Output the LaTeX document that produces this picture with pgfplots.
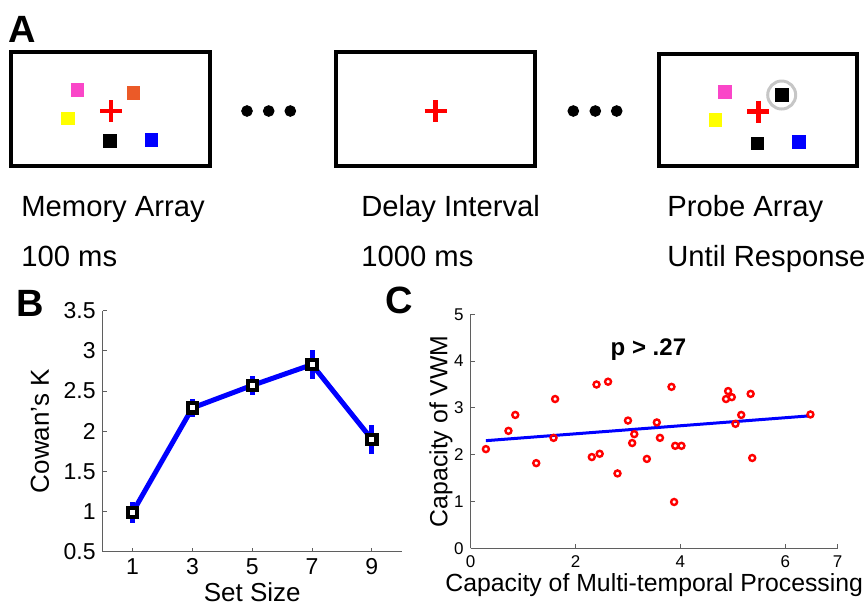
\documentclass[border=0pt]{standalone}
\usepackage{pgfplots}
\pgfplotsset{compat=1.18}
\usepackage{fontspec}
\setmainfont{Liberation Sans}

\definecolor{mblue}{RGB}{0,0,255}
\definecolor{mred}{RGB}{255,0,0}
\definecolor{axgray}{RGB}{95,95,95}
\definecolor{pinkA}{RGB}{250,70,200}
\definecolor{orangeA}{RGB}{235,90,40}
\definecolor{yellowA}{RGB}{255,255,0}

\pgfplotsset{
  mat/.style={
    scale only axis,
    axis lines=left,
    axis line style={-, draw=axgray, line width=0.6pt},
    tick align=inside,
    major tick length=2pt,
    tick style={draw=axgray, line width=0.5pt},
    /pgf/number format/assume math mode=true,
    clip=false,
  },
}

% set size, K, sem
\pgfplotstableread{
x y e
1 0.99 0.13
3 2.29 0.11
5 2.57 0.12
7 2.83 0.18
9 1.90 0.18
}\cowan

% multi-temporal capacity vs VWM capacity
\pgfplotstableread{
x y
0.29 2.12
0.72 2.51
0.85 2.85
1.25 1.82
1.58 2.36
1.61 3.19
2.31 1.95
2.40 3.50
2.46 2.02
2.62 3.56
2.80 1.60
3.00 2.73
3.08 2.25
3.12 2.44
3.36 1.91
3.55 2.69
3.61 2.36
3.83 3.45
3.88 0.99
3.90 2.19
4.02 2.19
4.87 3.19
4.91 3.36
4.98 3.23
5.05 2.66
5.16 2.85
5.34 3.30
5.37 1.93
6.48 2.86
}\scatterdata

\begin{document}
\begin{tikzpicture}
\useasboundingbox (0pt,0pt) rectangle (433pt,-303pt);

% panel A (schematic) in pixel coordinates
\begin{axis}[at={(0pt,0pt)}, anchor=north west, scale only axis,
  width=433pt, height=303pt, xmin=0, xmax=866, ymin=0, ymax=606,
  y dir=reverse, hide axis, clip=false]
  \draw[line width=2.1pt] (axis cs:10.7,52) rectangle (axis cs:210,166);
  \draw[line width=2.1pt] (axis cs:336,52) rectangle (axis cs:535,166);
  \draw[line width=2.1pt] (axis cs:658.7,53.7) rectangle (axis cs:857.3,166);
  \addplot[only marks, mark=o, mark size=7pt, gray!45, line width=1.5pt] coordinates {(781.7,95)};
  \addplot[only marks, mark=square*, mark size=3.2pt, pinkA] coordinates {(77.3,90) (725,92)};
  \addplot[only marks, mark=square*, mark size=3.2pt, orangeA] coordinates {(133.3,93)};
  \addplot[only marks, mark=square*, mark size=3.2pt, yellowA] coordinates {(67.7,118.3) (715.3,120)};
  \addplot[only marks, mark=square*, mark size=3.2pt, black] coordinates {(109.7,141) (781.7,95) (757.3,143.3)};
  \addplot[only marks, mark=square*, mark size=3.2pt, mblue] coordinates {(151.3,140) (799,142)};
  \addplot[only marks, mark=+, mark size=5.5pt, mred, line width=2.3pt] coordinates {(111,111) (435.5,111) (758.3,111.7)};
  \addplot[only marks, mark=*, mark size=2.7pt, black] coordinates {(247,111) (268.7,111) (290.3,111) (573.3,111) (595.3,111) (616.7,111)};
  \begin{scope}[every node/.style={anchor=base west, inner sep=0pt, font=\fontsize{14.6}{16}\selectfont}]
    \node at (axis cs:21,216) {Memory Array};
    \node at (axis cs:21,266) {100 ms};
    \node at (axis cs:361,216) {Delay Interval};
    \node at (axis cs:361,266) {1000 ms};
    \node at (axis cs:667,216) {Probe Array};
    \node at (axis cs:667,266) {Until Response};
  \end{scope}
  \begin{scope}[every node/.style={anchor=base west, inner sep=0pt, font=\bfseries\fontsize{19}{20}\selectfont}]
    \node at (axis cs:8,42) {A};
    \node at (axis cs:16,316) {B};
    \node at (axis cs:385,313) {C};
  \end{scope}
\end{axis}

% panel B
\begin{axis}[mat, at={(51.35pt,-275.85pt)}, anchor=south west,
  width=149.5pt, height=120.5pt,
  xmin=0, xmax=10, ymin=0.5, ymax=3.5,
  xtick={1,3,5,7,9}, ytick={0.5,1,1.5,2,2.5,3,3.5},
  ticklabel style={font=\fontsize{11.5}{13}\selectfont},
  label style={font=\fontsize{13}{15}\selectfont},
  xlabel={Set Size}, ylabel={Cowan’s K},
  xlabel style={at={(axis description cs:0.5,-0.17)}, anchor=center},
  ylabel style={at={(axis description cs:-0.21,0.5)}, anchor=center},
]
  \addplot[mblue, line width=2.5pt, mark=square*, mark size=2.3pt,
    mark options={draw=black, fill=white, line width=2.1pt},
    error bars/.cd, y dir=both, y explicit, error mark=none,
    error bar style={line width=2.5pt, mblue}]
    table[x=x, y=y, y error=e] {\cowan};
\end{axis}

% panel C
\begin{axis}[mat, at={(235.35pt,-274.15pt)}, anchor=south west,
  width=183.5pt, height=117pt,
  xmin=0, xmax=7, ymin=0, ymax=5,
  xtick={0,2,4,6,7}, ytick={0,1,2,3,4,5},
  ticklabel style={font=\fontsize{8.5}{10}\selectfont},
  label style={font=\fontsize{12.4}{14}\selectfont},
  xlabel={Capacity of Multi-temporal Processing}, ylabel={Capacity of VWM},
  xlabel style={at={(axis description cs:0.5,-0.157)}, anchor=center},
  ylabel style={at={(axis description cs:-0.081,0.5)}, anchor=center},
]
  \addplot[mblue, line width=1.5pt] coordinates {(0.29,2.30) (6.46,2.83)};
  \addplot[only marks, mark=o, mark size=1.5pt, mred, line width=1.2pt]
    table[x=x, y=y] {\scatterdata};
  \node[font=\bfseries\fontsize{12}{14}\selectfont] at (axis cs:3.39,4.24) {p > .27};
\end{axis}
\end{tikzpicture}
\end{document}
